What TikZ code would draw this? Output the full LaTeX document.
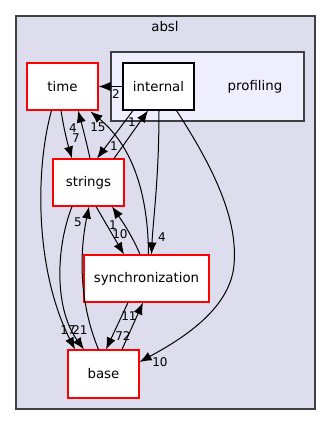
\documentclass[tikz,border=0pt]{standalone}
\usepackage{fontspec}
\setmainfont{DejaVu Sans}
\usepackage{tikz}
\usetikzlibrary{arrows.meta,calc}
\definecolor{clusterbg}{HTML}{DDDDEE}
\definecolor{subbg}{HTML}{EEEEFF}
\definecolor{frame}{HTML}{404040}

\begin{document}
\begin{tikzpicture}[x=0.75pt, y=-0.75pt,
        dir/.style={draw=red, fill=white, line width=0.8pt, minimum width=53.25pt, minimum height=35.25pt, inner sep=0pt, font=\fontsize{10}{12}\selectfont},
        subdir/.style={dir, draw=black},
        dep/.style={line width=0.75pt, -{Latex[length=9pt,width=7pt]}},
        lbl/.style={inner sep=0pt, font=\fontsize{9}{10}\selectfont}]
            \useasboundingbox (0, 0) rectangle (331, 425);
            \fill[white] (0, 0) rectangle (331, 425);
            \draw[fill=clusterbg, draw=frame, line width=0.9pt] (16, 16) rectangle (315, 409);
            \node[font=\fontsize{10}{12}\selectfont] (absl) at (165, 27) {absl};
            \draw[fill=subbg, draw=frame, line width=1.1pt] (111, 52) rectangle (304, 121);
            \node[font=\fontsize{10}{12}\selectfont] (profiling) at (255, 86.5) {profiling};

            \node[subdir] (internal) at (158.5, 86.5) {internal};
            \node[dir] (time) at (62.5, 86.5) {time};
            \node[dir] (strings) at (88.5, 182.5) {strings};
            \node[dir, minimum width=93.75pt] (sync) at (146.5, 278.5) {synchronization};
            \node[dir, minimum height=36pt] (base) at (103.5, 374) {base};

            \draw[dep] (internal.west) -- (time.east);
            \draw[dep] ($(time.south)+(-1.5,0)$) .. controls (64, 130) and (68, 145) .. ($(strings.north)+(-16.5,0)$);
            \draw[dep] ($(strings.north)+(1.5,0)$) .. controls (86, 140) and (82, 125) .. ($(time.south)+(15.5,0)$);
            \draw[dep] ($(sync.north)+(2,0)$) .. controls (148, 180) and (125, 140) .. ($(time.south)+(28,1)$);
            \draw[dep] ($(internal.south)+(-25.5,0)$) -- ($(strings.north)+(8.5,0)$);
            \draw[dep] ($(strings.north)+(25.5,0)$) -- ($(internal.south)+(-10.5,0)$);
            \draw[dep] ($(internal.south)+(0.5,0)$) .. controls (159, 180) and (153, 220) .. ($(sync.north)+(5,0)$);
            \draw[dep] ($(internal.south)+(18,0)$) .. controls (215, 170) and (238, 220) .. (234, 265)
                .. controls (230, 310) and (180, 340) .. ($(base.east)+(0,-12)$);
            \draw[dep] ($(time.south)+(-11,0)$) .. controls (35, 170) and (35, 270) .. ($(base.north)+(-28.5,0)$);
            \draw[dep] ($(strings.south)+(-16.5,0)$) .. controls (55, 250) and (55, 310) .. ($(base.north)+(-19.5,0)$);
            \draw[dep] ($(base.north)+(-5,0)$) .. controls (78, 300) and (80, 250) .. ($(strings.south)+(0.5,0)$);
            \draw[dep] ($(strings.south)+(7.5,0)$) -- ($(sync.north)+(-22.5,0)$);
            \draw[dep] ($(sync.north)+(-6.5,0)$) .. controls (132, 235) and (120, 218) .. ($(strings.south)+(23.5,0)$);
            \draw[dep] ($(sync.south)+(-18.5,0)$) -- ($(base.north)+(2.5,0)$);
            \draw[dep] ($(base.north)+(18.5,0)$) -- ($(sync.south)+(-3.5,0)$);

            \node[lbl] (n2) at (116, 94) {2};
            \node[lbl] (n7) at (76, 138) {7};
            \node[lbl] (n4a) at (73, 128) {4};
            \node[lbl] (n15) at (98, 127) {15};
            \node[lbl] (n1a) at (114, 146) {1};
            \node[lbl] (n1b) at (132, 122) {1};
            \node[lbl] (n4b) at (162, 237) {4};
            \node[lbl] (n10a) at (160, 362) {10};
            \node[lbl] (n5) at (78, 222) {5};
            \node[lbl] (n10b) at (120, 234) {10};
            \node[lbl] (n1c) at (113, 225) {1};
            \node[lbl] (n17) at (68, 330) {17};
            \node[lbl] (n21) at (80, 330) {21};
            \node[lbl] (n72) at (123, 336) {72};
            \node[lbl] (n11) at (129, 316) {11};
        \end{tikzpicture}
\end{document}
